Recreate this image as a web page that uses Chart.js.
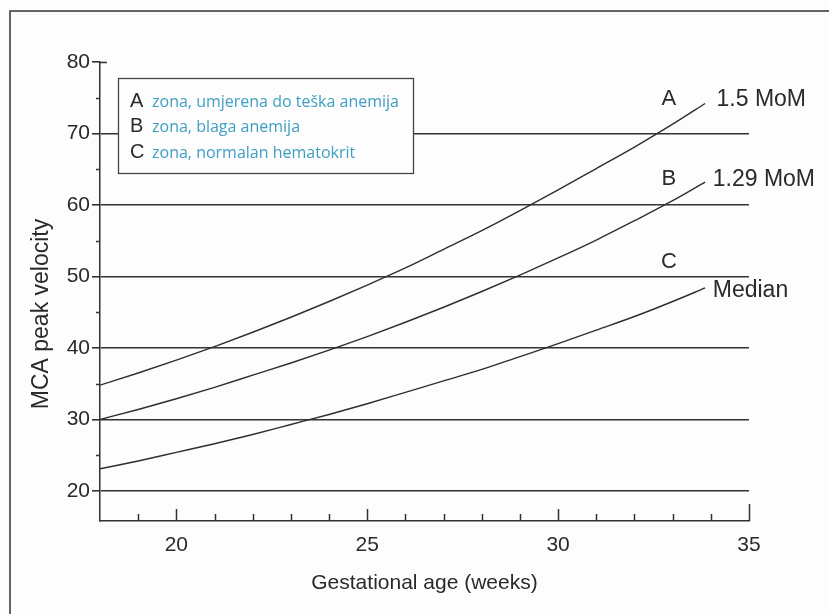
<!DOCTYPE html>
<html>
<head>
<meta charset="utf-8">
<script src="https://cdn.jsdelivr.net/npm/chart.js@4.4.1/dist/chart.umd.min.js"></script>
<style>
html, body { margin: 0; padding: 0; background: #fff; }
#wrap { width: 829px; height: 614px; }
</style>
</head>
<body>
<div id="wrap"><canvas id="mcaChart" width="829" height="614"></canvas></div>
<script>
var weeks = [18, 19, 20, 21, 22, 23, 24, 25, 26, 27, 28, 29, 30, 31, 32, 33, 33.85];
var mom15 = [34.8, 36.5, 38.3, 40.2, 42.2, 44.3, 46.5, 48.8, 51.2, 53.8, 56.4, 59.2, 62.1, 65.1, 68.1, 71.3, 74.2];
var mom129 = [30.0, 31.4, 32.9, 34.5, 36.2, 37.9, 39.7, 41.6, 43.6, 45.7, 47.9, 50.2, 52.6, 55.1, 57.8, 60.6, 63.2];
var median = [23.1, 24.2, 25.4, 26.6, 27.9, 29.3, 30.7, 32.2, 33.8, 35.4, 37.0, 38.8, 40.6, 42.5, 44.4, 46.5, 48.4];

var xTicks = [18, 19, 20, 21, 22, 23, 24, 25, 26, 27, 28, 29, 30, 31, 32, 33, 34, 35];
var xLabels = [20, 25, 30, 35];
var yTicks = [20, 25, 30, 35, 40, 45, 50, 55, 60, 65, 70, 75, 80];

var curveNames = ["1.5 MoM", "1.29 MoM", "Median"];
var zoneLetters = ["A", "B", "C"];
var legendLetters = ["A", "B", "C"];
var legendTexts = ["zona, umjerena do teška anemija", "zona, blaga anemija", "zona, normalan hematokrit"];
var yTitle = 'MCA peak velocity';

// where the text labels sit, in axis units
var curveLabelSpots = [{x: 34.15, y: 74.8}, {x: 34.05, y: 63.6}, {x: 34.05, y: 48.0}];
var zoneLetterSpots = [{x: 32.9, y: 74.8}, {x: 32.9, y: 63.6}, {x: 32.9, y: 52.1}];

var ink = '#2a2a2a';
var sans = "'Liberation Sans', Arial, sans-serif";

Chart.defaults.font.family = sans;
Chart.defaults.color = ink;

function toPoints(values) {
    return weeks.map(function(w, i) { return {x: w, y: values[i]}; });
}

function lineSet(label, values) {
    return {
        label: label,
        data: toPoints(values),
        borderColor: '#2e2e2e',
        borderWidth: 1.4,
        pointRadius: 0,
        fill: false,
        cubicInterpolationMode: 'monotone'
    };
}

var pageFrame = {
    id: 'pageFrame',
    beforeDraw: function(chart) {
        var ctx = chart.ctx;
        ctx.save();
        ctx.fillStyle = '#fdfdfd';
        ctx.fillRect(0, 0, chart.width, chart.height);
        ctx.strokeStyle = '#333';
        ctx.lineWidth = 1.5;
        ctx.beginPath();
        ctx.moveTo(10, chart.height);
        ctx.lineTo(10, 11);
        ctx.lineTo(chart.width, 11);
        ctx.stroke();
        ctx.restore();
    }
};

var tickMarks = {
    id: 'tickMarks',
    afterDraw: function(chart) {
        var ctx = chart.ctx, xs = chart.scales.x, ys = chart.scales.y, area = chart.chartArea;
        ctx.save();
        ctx.strokeStyle = '#333';
        ctx.lineWidth = 1.5;
        ctx.beginPath();
        xTicks.forEach(function(v) {
            if (v === xs.min) return;
            var px = Math.round(xs.getPixelForValue(v)) + 0.5;
            var len = v === xs.max ? 17 : (xLabels.indexOf(v) >= 0 ? 12 : 7);
            ctx.moveTo(px, area.bottom);
            ctx.lineTo(px, area.bottom - len);
        });
        yTicks.forEach(function(v) {
            if (v % 10 === 0) return;
            var py = Math.round(ys.getPixelForValue(v)) + 0.5;
            ctx.moveTo(area.left - 4, py);
            ctx.lineTo(area.left, py);
        });
        var topY = Math.round(ys.getPixelForValue(80)) + 0.5;
        ctx.moveTo(area.left, topY);
        ctx.lineTo(area.left + 7, topY);
        ctx.stroke();

        // y axis title, set a bit lower than the scale centre like the scan
        ctx.fillStyle = ink;
        ctx.font = '23px ' + sans;
        ctx.textAlign = 'center';
        ctx.textBaseline = 'middle';
        ctx.translate(42, 314);
        ctx.rotate(-Math.PI / 2);
        ctx.fillText(yTitle, 0, 0);
        ctx.restore();
    }
};

var zoneLegend = {
    id: 'zoneLegend',
    afterDraw: function(chart) {
        var ctx = chart.ctx, area = chart.chartArea;
        var bx = area.left + 18, by = 78, bw = 295, bh = 95;
        ctx.save();
        ctx.fillStyle = '#fdfdfd';
        ctx.fillRect(bx, by, bw, bh);
        ctx.strokeStyle = '#444';
        ctx.lineWidth = 1.3;
        ctx.strokeRect(bx + 0.5, by + 0.5, bw, bh);
        ctx.textBaseline = 'middle';
        for (var i = 0; i < legendLetters.length; i++) {
            var ty = by + 23 + i * 25.5;
            ctx.fillStyle = '#2a2a2a';
            ctx.font = '20px ' + sans;
            ctx.fillText(legendLetters[i], bx + 12, ty);
            ctx.fillStyle = '#3f9fc2';
            ctx.font = "16px 'Open Sans', 'Noto Sans', sans-serif";
            ctx.fillText(legendTexts[i], bx + 34, ty + 1);
        }
        ctx.restore();
    }
};

var curveLabels = {
    id: 'curveLabels',
    afterDraw: function(chart) {
        var ctx = chart.ctx, xs = chart.scales.x, ys = chart.scales.y;
        ctx.save();
        ctx.fillStyle = ink;
        ctx.textBaseline = 'middle';
        ctx.font = '23px ' + sans;
        ctx.textAlign = 'left';
        curveNames.forEach(function(name, i) {
            ctx.fillText(name, xs.getPixelForValue(curveLabelSpots[i].x), ys.getPixelForValue(curveLabelSpots[i].y));
        });
        ctx.font = '22px ' + sans;
        ctx.textAlign = 'center';
        zoneLetters.forEach(function(letter, i) {
            ctx.fillText(letter, xs.getPixelForValue(zoneLetterSpots[i].x), ys.getPixelForValue(zoneLetterSpots[i].y));
        });
        ctx.restore();
    }
};

var chartCtx = document.getElementById('mcaChart').getContext('2d');
new Chart(chartCtx, {
    type: 'line',
    data: {
        datasets: [
            lineSet(curveNames[0], mom15),
            lineSet(curveNames[1], mom129),
            lineSet(curveNames[2], median)
        ]
    },
    plugins: [pageFrame, tickMarks, zoneLegend, curveLabels],
    options: {
        responsive: false,
        animation: false,
        layout: { padding: { top: 62, right: 80, left: 0, bottom: 0 } },
        plugins: {
            legend: { display: false },
            tooltip: { enabled: false }
        },
        scales: {
            x: {
                type: 'linear',
                min: 18,
                max: 35,
                afterBuildTicks: function(scale) {
                    scale.ticks = xTicks.map(function(v) { return {value: v}; });
                },
                afterFit: function(scale) { scale.height = 93; },
                grid: { display: false, drawTicks: false },
                border: { display: true, color: '#333', width: 1.5 },
                ticks: {
                    autoSkip: false,
                    maxRotation: 0,
                    padding: 12,
                    color: ink,
                    font: { size: 21 },
                    callback: function(v) { return xLabels.indexOf(v) >= 0 ? String(v) : ''; }
                },
                title: {
                    display: true,
                    text: 'Gestational age (weeks)',
                    color: ink,
                    font: { size: 21 },
                    padding: { top: 0, bottom: 18 }
                }
            },
            y: {
                min: 15.8,
                max: 80,
                afterBuildTicks: function(scale) {
                    scale.ticks = yTicks.map(function(v) { return {value: v}; });
                },
                afterFit: function(scale) { scale.width = 100; },
                grid: {
                    color: function(c) {
                        return (c.tick && c.tick.value % 10 === 0 && c.tick.value < 80) ? '#333' : 'rgba(0,0,0,0)';
                    },
                    tickColor: function(c) {
                        return (c.tick && c.tick.value % 10 === 0) ? '#333' : 'rgba(0,0,0,0)';
                    },
                    lineWidth: 1.6,
                    tickLength: 8
                },
                border: { display: true, color: '#333', width: 1.5 },
                ticks: {
                    autoSkip: false,
                    padding: 2,
                    color: ink,
                    font: { size: 21 },
                    callback: function(v) { return v % 10 === 0 ? String(v) : ''; }
                },
                title: { display: false }
            }
        }
    }
});
</script>
</body>
</html>
